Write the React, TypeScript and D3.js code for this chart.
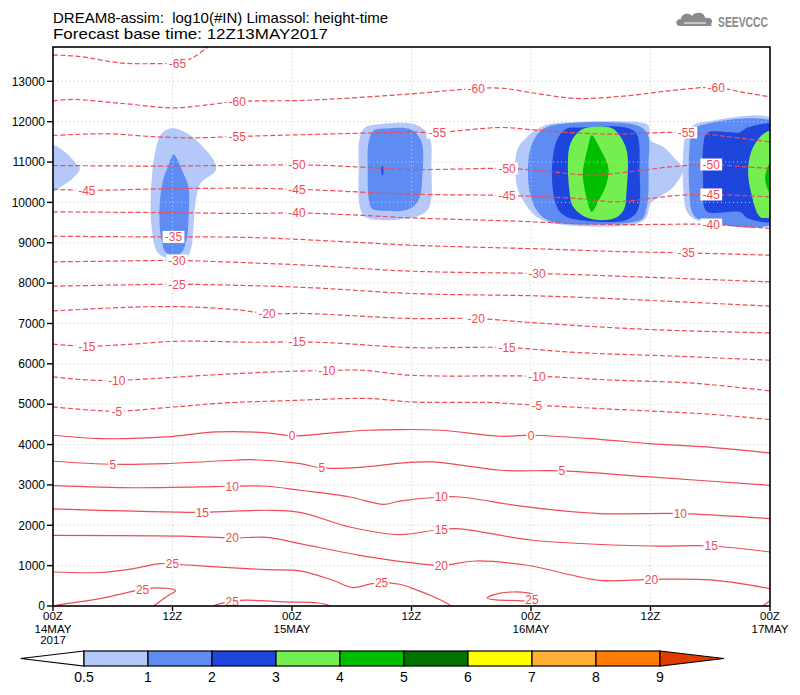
import React from "react";
import * as d3 from "d3";

// ---------- axes / ticks ----------
const HOUR_TICKS = [0, 12, 24, 36, 48, 60, 72];
const HOUR_LABELS = ["00Z", "12Z", "00Z", "12Z", "00Z", "12Z", "00Z"];
const DAY_LABELS = ["14MAY", "", "15MAY", "", "16MAY", "", "17MAY"];
const YEAR_LABELS = ["2017", "", "", "", "", "", ""];
const HEIGHT_TICKS = [0, 1000, 2000, 3000, 4000, 5000, 6000, 7000, 8000, 9000, 10000, 11000, 12000, 13000];
const GRID_HOURS = [12, 24, 36, 48, 60];

// ---------- colour scale (log10 #IN) ----------
const LEVEL_BOUNDS = ["0.5", "1", "2", "3", "4", "5", "6", "7", "8", "9"];
const LEVEL_COLORS = ["#b4c8fa", "#5f8cf2", "#1e46dc", "#73f050", "#00be00", "#007300", "#ffff00", "#ffaf32", "#ff7d00"];
const OVER_COLOR = "#e13c00";

// ---------- dust concentration outlines [hour, height m] ----------
const DUST_A1 = [[-1, 11420], [0, 11420], [1.2, 11250], [2.2, 11000], [2.7, 10840], [2, 10600], [1, 10420], [0, 10270], [-1, 10270]];
const DUST_B1 = [[11.75, 11830], [12.7, 11800], [14.4, 11541], [16.4, 10840], [14.8, 10468], [14.4, 10136], [14.1, 9393], [13.9, 8897], [13.4, 8610], [12.3, 8585], [10.6, 8733], [9.9, 9393], [9.9, 10551], [10.3, 11294], [10.9, 11707]];
const DUST_B2 = [[12.1, 11187], [13.1, 10716], [13.6, 10384], [13.6, 9559], [13.4, 9063], [12.8, 8733], [11.4, 8745], [10.9, 9063], [10.7, 9888], [11.05, 10551], [11.6, 10922]];
const DUST_C1 = [[30.8, 11600], [31.3, 11850], [33, 11940], [36.5, 11920], [37.8, 11623], [38.0, 10880], [37.8, 9888], [36.85, 9683], [33.2, 9559], [31.3, 9650], [30.8, 9900], [30.7, 10800]];
const DUST_C2 = [[31.7, 11500], [32.2, 11780], [33.5, 11830], [36, 11800], [37.0, 11500], [37.1, 10700], [36.7, 10055], [35.7, 9830], [33.2, 9790], [32.0, 9850], [31.7, 10100], [31.6, 10800]];
const DUST_C3 = [[33.0, 10880], [33.15, 10880], [33.12, 10670], [33.05, 10670]];
const DUST_D1 = [[46.6, 11294], [47.6, 11623], [49.2, 11888], [51, 11971], [59.2, 11971], [59.8, 11900], [60, 11541], [61.3, 11375], [62.6, 11046], [63.3, 10840], [62.3, 10384], [60.6, 10097], [60, 9972], [59.6, 9641], [58.6, 9470], [51, 9452], [48.6, 9641], [47.2, 10055], [46.6, 10384]];
const DUST_D2 = [[47.9, 11294], [48.9, 11757], [50.2, 11914], [58.6, 11914], [59.7, 11700], [59.8, 10900], [59.7, 10000], [59.2, 9600], [58.4, 9517], [50.2, 9517], [48.9, 9700], [47.9, 10220]];
const DUST_D3 = [[50.1, 10716], [50.6, 11541], [51.5, 11820], [53, 11856], [57.5, 11856], [58.6, 11700], [58.9, 10800], [58.7, 9800], [57.5, 9559], [53, 9559], [51.5, 9650], [50.6, 9888]];
const DUST_D4 = [[51.85, 11375], [52.6, 11707], [53.4, 11840], [55.9, 11856], [56.6, 11748], [57.6, 11294], [57.6, 10302], [57.3, 9807], [56.3, 9600], [53.9, 9600], [52.25, 9888], [51.85, 10302]];
const DUST_D5 = [[54.1, 11666], [54.9, 11350], [55.6, 11000], [55.8, 10773], [55.5, 10400], [54.8, 10050], [54.1, 9765], [53.6, 10100], [53.3, 10450], [53.2, 10716], [53.4, 11050], [53.7, 11350]];
const DUST_E1 = [[63.3, 11300], [63.6, 11750], [64.3, 11914], [65.5, 11996], [73, 11996], [73, 9517], [65.5, 9517], [64.3, 9600], [63.6, 9800], [63.3, 10300]];
const DUST_E2 = [[63.9, 11300], [64.2, 11780], [64.9, 11900], [73, 11914], [73, 9559], [64.9, 9580], [64.2, 9750], [63.9, 10300]];
const DUST_E3 = [[65.3, 10300], [65.3, 11400], [65.7, 11720], [69, 11740], [69.8, 11860], [73, 11880], [73, 9580], [69.8, 9600], [69, 9760], [65.7, 9770], [65.3, 10000]];
const DUST_E4 = [[69.8, 10750], [70.1, 11250], [71, 11623], [72, 11780], [73, 11800], [73, 9600], [72, 9620], [71, 9641], [70.1, 10250]];
const DUST_E5 = [[71.5, 10600], [71.9, 10950], [72.5, 11200], [73, 11250], [73, 9900], [72.5, 9950], [71.9, 10250]];

const DUST = [
  { level: 0, pts: DUST_A1 }, { level: 0, pts: DUST_B1 }, { level: 0, pts: DUST_C1 }, { level: 0, pts: DUST_D1 }, { level: 0, pts: DUST_E1 },
  { level: 1, pts: DUST_B2 }, { level: 1, pts: DUST_C2 }, { level: 1, pts: DUST_D2 }, { level: 1, pts: DUST_E2 },
  { level: 2, pts: DUST_C3 }, { level: 2, pts: DUST_D3 }, { level: 2, pts: DUST_E3 },
  { level: 3, pts: DUST_D4 }, { level: 3, pts: DUST_E4 },
  { level: 4, pts: DUST_D5 }, { level: 4, pts: DUST_E5 },
];

// ---------- isotherms (deg C) [hour, height m] ----------
const ISO_M65 = [[0, 13650], [2.5, 13620], [7, 13450], [11, 13440], [12.5, 13445], [14, 13580], [15.5, 13840], [16.2, 13950]];
const ISO_M60 = [[0, 12516], [2, 12550], [7, 12450], [12, 12342], [15, 12400], [18.5, 12500], [25.5, 12530], [36, 12690], [42.5, 12823], [45, 12830], [48.5, 12700], [52.6, 12575], [58, 12650], [62, 12770], [66.6, 12848], [69, 12740], [72, 12615]];
const ISO_M55 = [[0, 11658], [5.4, 11700], [10, 11630], [14, 11599], [18.5, 11633], [25.5, 11680], [36, 11740], [38.6, 11732], [45, 11856], [48, 11800], [52.6, 11720], [55.9, 11690], [63.6, 11732], [68, 11620], [72, 11500]];
const ISO_M50 = [[0, 10914], [10, 10900], [18, 10915], [24.5, 10930], [28, 10910], [36, 10815], [45.6, 10840], [49.2, 10780], [54.2, 10674], [58, 10760], [62, 10880], [66.1, 10939], [69, 10890], [72, 10840]];
const ISO_M45 = [[0, 10326], [3.4, 10300], [12, 10340], [20, 10350], [24.5, 10326], [28, 10290], [36, 10203], [45.6, 10171], [52.6, 10097], [56.6, 10013], [60, 10100], [63, 10178], [66.1, 10196], [72, 10136]];
const ISO_M40 = [[0, 9765], [12, 9745], [20, 9725], [24.5, 9740], [30, 9690], [36, 9616], [45.9, 9540], [55.9, 9452], [66.1, 9452], [72, 9353]];
const ISO_M35 = [[0, 9162], [6, 9150], [12.1, 9145], [20, 9130], [30.5, 9010], [36, 8939], [49.2, 8845], [57, 8780], [63.6, 8749], [72, 8692]];
const ISO_M30 = [[0, 8526], [6, 8545], [12.45, 8560], [20, 8500], [25.5, 8444], [36, 8295], [48.6, 8238], [55.9, 8180], [72, 8030]];
const ISO_M25 = [[0, 7924], [6, 7950], [12.45, 7972], [25.5, 7890], [36, 7742], [49.2, 7680], [59.2, 7580], [72, 7428]];
const ISO_M20 = [[0, 7311], [8.7, 7410], [13.8, 7410], [18.8, 7330], [21.5, 7246], [25.5, 7246], [36, 7123], [42.5, 7123], [47.6, 7030], [55.9, 6900], [62, 6830], [72, 6766]];
const ISO_M15 = [[0, 6486], [3.4, 6436], [8, 6490], [12, 6555], [15, 6560], [20, 6535], [24.5, 6543], [28, 6520], [36, 6403], [45.6, 6403], [52.6, 6280], [62.6, 6190], [72, 6089]];
const ISO_M10 = [[0, 5676], [3.5, 5600], [6.4, 5590], [15.4, 5717], [22.1, 5800], [27.5, 5835], [31, 5841], [36, 5717], [48.6, 5693], [55.9, 5600], [64.3, 5520], [72, 5329]];
const ISO_M5 = [[0, 4932], [4, 4850], [6.4, 4825], [12.1, 4930], [17.1, 5030], [23.8, 5090], [29.5, 5140], [32, 5140], [36, 5056], [44, 5040], [48.6, 4974], [55.9, 4880], [66, 4750], [72, 4619]];
const ISO_0 = [[0, 4231], [4.7, 4148], [11.4, 4189], [16.4, 4313], [21.5, 4290], [24, 4214], [28.1, 4290], [31.5, 4355], [34.8, 4372], [38.9, 4355], [44.9, 4206], [48, 4231], [54.9, 4130], [59.9, 4025], [66.6, 3920], [72, 3792]];
const ISO_5 = [[0, 3586], [6, 3512], [11.4, 3530], [18.1, 3611], [20, 3625], [24.8, 3528], [27, 3420], [31.5, 3450], [34.8, 3540], [38.2, 3569], [44.9, 3363], [51.1, 3346], [59.9, 3197], [72, 2991]];
const ISO_10 = [[0, 2983], [8.1, 2930], [14.7, 2950], [18, 2967], [21.5, 2967], [24.8, 2868], [29.8, 2701], [33.2, 2520], [34.8, 2600], [39, 2701], [40.9, 2701], [47.6, 2454], [54.9, 2290], [63, 2290], [72, 2166]];
const ISO_15 = [[0, 2404], [8.1, 2350], [15, 2322], [21.5, 2372], [24.8, 2320], [29.8, 1958], [34.8, 1770], [39, 1901], [40.9, 1910], [48.2, 1629], [59.9, 1487], [66.1, 1487], [72, 1338]];
const ISO_20 = [[0, 1750], [13.1, 1730], [18, 1685], [21.5, 1700], [24.8, 1546], [30.8, 1256], [34.8, 1108], [39, 1009], [42.5, 1115], [47.6, 1009], [54.9, 637], [60.1, 661], [66, 645], [72, 431]];
const ISO_25A = [[0, 843], [4.7, 830], [8.1, 926], [10.7, 1050], [12, 1040], [16.4, 967], [21.5, 901], [24.8, 870], [28.1, 637], [30.1, 456], [31.8, 540], [33, 580], [34.8, 538], [36.5, 400], [38.5, 200], [39.6, 60], [40.2, -50]];
const ISO_25B = [[-0.5, -40], [0, 0], [4.7, 183], [9, 413], [10.5, 450], [12.3, 380], [11.5, 250], [10.1, 0], [9.8, -50]];
const ISO_25C = [[15.8, -50], [16.1, 0], [17, 70], [18, 100], [18.8, 141], [21.5, 125], [23.1, 100], [26.5, 80], [27.8, 0], [28, -50]];
const ISO_25D = [[48.1, 150], [46, 141], [44.5, 150], [43.6, 200], [44.9, 320], [46.2, 347], [47.4, 335], [48.4, 260]];
const ISO_25E = [[71.1, -50], [71.3, 0], [71.7, 80], [72.3, 180]];

const ISOTHERMS = [
  { level: -65, pts: ISO_M65, labels: [4] },
  { level: -60, pts: ISO_M60, labels: [5, 8, 14] },
  { level: -55, pts: ISO_M55, labels: [4, 7, 12] },
  { level: -50, pts: ISO_M50, labels: [3, 6, 11] },
  { level: -45, pts: ISO_M45, labels: [1, 4, 7, 12] },
  { level: -40, pts: ISO_M40, labels: [3, 8] },
  { level: -35, pts: ISO_M35, labels: [2, 8] },
  { level: -30, pts: ISO_M30, labels: [2, 6] },
  { level: -25, pts: ISO_M25, labels: [2] },
  { level: -20, pts: ISO_M20, labels: [4, 7] },
  { level: -15, pts: ISO_M15, labels: [1, 6, 9] },
  { level: -10, pts: ISO_M10, labels: [2, 5, 8] },
  { level: -5, pts: ISO_M5, labels: [2, 10] },
  { level: 0, pts: ISO_0, labels: [5, 11] },
  { level: 5, pts: ISO_5, labels: [1, 6, 11] },
  { level: 10, pts: ISO_10, labels: [3, 9, 13] },
  { level: 15, pts: ISO_15, labels: [2, 7, 11] },
  { level: 20, pts: ISO_20, labels: [2, 7, 11] },
  { level: 25, pts: ISO_25A, labels: [4, 11] },
  { level: 25, pts: ISO_25B, labels: [3] },
  { level: 25, pts: ISO_25C, labels: [3] },
  { level: 25, pts: ISO_25D, labels: [0], closed: true },
  { level: 25, pts: ISO_25E, labels: [] as number[] },
];

const TITLE_1 = "DREAM8-assim:  log10(#IN) Limassol: height-time";
const TITLE_2 = "Forecast base time: 12Z13MAY2017";
const LOGO_TEXT = "SEEVCCC";

const FONT = "'Liberation Sans', Arial, sans-serif";
const ISO_COLOR = "#ee4b55";

export default function App() {
  const x = d3.scaleLinear().domain([0, 72]).range([53, 770]);
  const y = d3.scaleLinear().domain([0, 13850]).range([606, 47]);
  const [x0, x1] = x.range();
  const [yb, yt] = y.range();

  const openLine = d3.line<number[]>().x((d) => x(d[0])).y((d) => y(d[1])).curve(d3.curveCatmullRom.alpha(0.5));
  const closedLine = d3.line<number[]>().x((d) => x(d[0])).y((d) => y(d[1])).curve(d3.curveCatmullRomClosed.alpha(0.5));

  // colour bar geometry
  const cb = d3.scaleLinear().domain([0, LEVEL_COLORS.length]).range([84, 660]);
  const cbTop = 651, cbBot = 666, cbMid = (cbTop + cbBot) / 2;
  const segW = cb(1) - cb(0);

  return (
    <svg width={800} height={695} style={{ position: "absolute", left: 0, top: 0, background: "#fff" }} fontFamily={FONT}>
      <rect x={0} y={0} width={800} height={695} fill="#fff" />
      <defs>
        <clipPath id="plotclip">
          <rect x={x0} y={yt} width={x1 - x0} height={yb - yt} />
        </clipPath>
      </defs>

      {/* title */}
      <text x={53} y={23} fontSize={15} fill="#000" style={{ whiteSpace: "pre" }}>{TITLE_1}</text>
      <text x={53} y={39} fontSize={15} fill="#000" textLength={275} lengthAdjust="spacingAndGlyphs">{TITLE_2}</text>

      {/* logo */}
      <g fill="#8a8a8a">
        <path d="M680,26 C675,26 675,19 681,19 C681,14 689,12 692,16 C695,11 705,12 705,18 C711,17 714,21 711,24 C713,26 710,26 708,26 Z" />
        <path d="M684,23 L706,23" stroke="#fff" strokeWidth={1} />
      </g>
      <text x={718} y={26.5} fontSize={14.5} fontWeight="bold" fill="#8a8a8a" textLength={50} lengthAdjust="spacingAndGlyphs">{LOGO_TEXT}</text>

      {/* shaded dust */}
      <g clipPath="url(#plotclip)">
        {DUST.map((d, i) => (
          <path key={"d" + i} d={closedLine(d.pts) || ""} fill={LEVEL_COLORS[d.level]} stroke="none" />
        ))}
      </g>

      {/* grid */}
      <g stroke="#c8c8c8" strokeWidth={1} strokeDasharray="1,3">
        {HEIGHT_TICKS.filter((h) => h > 0).map((h) => (
          <line key={"gh" + h} x1={x0} x2={x1} y1={y(h)} y2={y(h)} />
        ))}
        {GRID_HOURS.map((t) => (
          <line key={"gv" + t} x1={x(t)} x2={x(t)} y1={yb} y2={yt} />
        ))}
      </g>

      {/* isotherms */}
      <g clipPath="url(#plotclip)" fill="none" stroke={ISO_COLOR} strokeWidth={1.2}>
        {ISOTHERMS.map((iso, i) => (
          <path
            key={"iso" + i}
            d={(iso.closed ? closedLine(iso.pts) : openLine(iso.pts)) || ""}
            strokeDasharray={iso.level < 0 ? "5,2.5" : undefined}
          />
        ))}
      </g>
      <g>
        {ISOTHERMS.flatMap((iso, i) =>
          iso.labels.map((k) => {
            const p = iso.pts[k];
            const txt = String(iso.level);
            const w = txt.length * 6.6 + 2;
            return (
              <g key={"lab" + i + "_" + k}>
                <rect x={x(p[0]) - w / 2} y={y(p[1]) - 6} width={w} height={12} fill="#fff" />
                <text x={x(p[0])} y={y(p[1]) + 4.3} fontSize={12} fill={ISO_COLOR} textAnchor="middle">{txt}</text>
              </g>
            );
          })
        )}
      </g>

      {/* frame */}
      <rect x={x0} y={yt} width={x1 - x0} height={yb - yt} fill="none" stroke="#000" strokeWidth={1.6} />

      {/* y axis */}
      <g>
        {HEIGHT_TICKS.map((h) => (
          <g key={"yt" + h}>
            <line x1={x0 - 6} x2={x0} y1={y(h)} y2={y(h)} stroke="#000" strokeWidth={1.4} />
            <text x={x0 - 8} y={y(h) + 4.3} fontSize={12} textAnchor="end" fill="#000">{h}</text>
          </g>
        ))}
      </g>

      {/* x axis */}
      <g>
        {HOUR_TICKS.map((t, i) => (
          <g key={"xt" + t}>
            <line x1={x(t)} x2={x(t)} y1={yb} y2={yb + 5} stroke="#000" strokeWidth={1.4} />
            <text x={x(t)} y={620} fontSize={11.5} textAnchor="middle" fill="#000">{HOUR_LABELS[i]}</text>
            {DAY_LABELS[i] && <text x={x(t)} y={632.5} fontSize={11.5} textAnchor="middle" fill="#000">{DAY_LABELS[i]}</text>}
            {YEAR_LABELS[i] && <text x={x(t)} y={644} fontSize={11.5} textAnchor="middle" fill="#000">{YEAR_LABELS[i]}</text>}
          </g>
        ))}
      </g>

      {/* colour bar */}
      <g stroke="#000" strokeWidth={1.2}>
        <path d={`M${cb(0)},${cbTop} L${cb(0) - segW + 0.7},${cbMid} L${cb(0)},${cbBot} Z`} fill="#fff" />
        {LEVEL_COLORS.map((c, i) => (
          <rect key={"cb" + i} x={cb(i)} y={cbTop} width={segW} height={cbBot - cbTop} fill={c} />
        ))}
        <path d={`M${cb(LEVEL_COLORS.length)},${cbTop} L${cb(LEVEL_COLORS.length) + segW},${cbMid} L${cb(LEVEL_COLORS.length)},${cbBot} Z`} fill={OVER_COLOR} />
      </g>
      {LEVEL_BOUNDS.map((b, i) => (
        <text key={"cbl" + i} x={cb(i)} y={682} fontSize={14} textAnchor="middle" fill="#000">{b}</text>
      ))}
    </svg>
  );
}
